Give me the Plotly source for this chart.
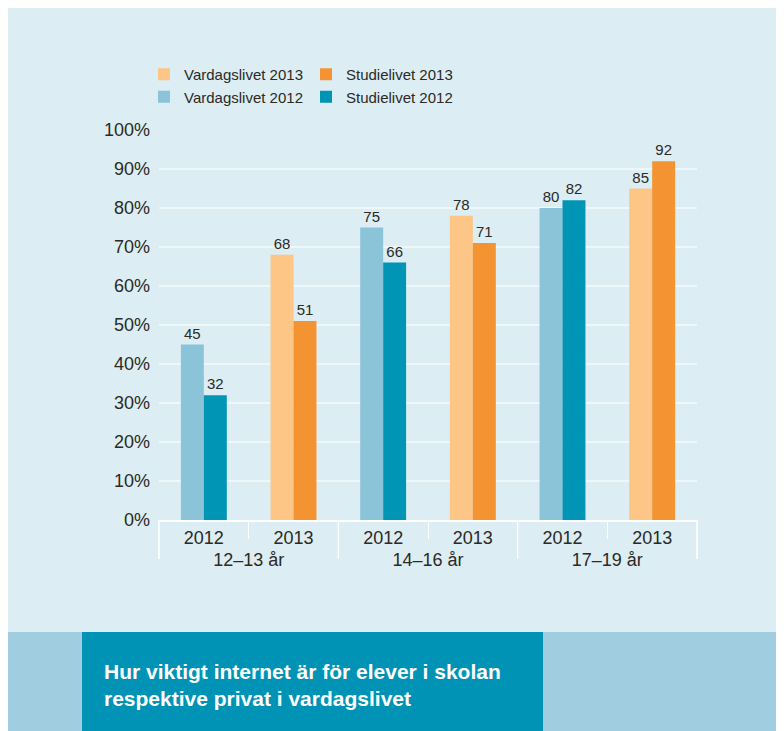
import plotly.graph_objects as go

# data
grupper = ["12–13 år", "12–13 år", "14–16 år", "14–16 år", "17–19 år", "17–19 år"]
ar = ["2012", "2013", "2012", "2013", "2012", "2013"]
vardagslivet_2012 = [45, None, 75, None, 80, None]
studielivet_2012 = [32, None, 66, None, 82, None]
vardagslivet_2013 = [None, 68, None, 78, None, 85]
studielivet_2013 = [None, 51, None, 71, None, 92]

BG = "#dcedf4"
TEXT = "#2b2a25"
FONT = "Liberation Sans, Arial, sans-serif"
BW = 0.256
OFF = 8  # the page body adds an 8px margin


def px_x(p):
    # page pixel -> paper (plot area 159..697 on the page)
    return (p - 159) / 538


def px_y(p):
    # page pixel -> paper (plot area 130..520 on the page)
    return (520 - p) / 390


def serie(namn, y, farg, offset, legend, rank):
    return go.Bar(
        x=[grupper, ar], y=y, name=namn,
        marker=dict(color=farg, line=dict(width=0)),
        width=BW, offset=offset,
        text=["" if v is None else str(v) for v in y],
        textposition="outside", cliponaxis=False,
        textfont=dict(size=15, color=TEXT, family=FONT),
        legend=legend, legendrank=rank,
    )


fig = go.Figure()
fig.add_trace(serie("Vardagslivet 2012", vardagslivet_2012, "#8bc3d9", -BW, "legend", 2))
fig.add_trace(serie("Studielivet 2012", studielivet_2012, "#0094b5", 0, "legend2", 2))
fig.add_trace(serie("Vardagslivet 2013", vardagslivet_2013, "#fdc686", -BW, "legend", 1))
fig.add_trace(serie("Studielivet 2013", studielivet_2013, "#f39331", 0, "legend2", 1))

leg = dict(orientation="v", xanchor="left", yanchor="top", y=px_y(58),
           bgcolor="rgba(0,0,0,0)", font=dict(size=15, color=TEXT, family=FONT),
           itemwidth=30, tracegroupgap=0)

fig.update_layout(
    width=784, height=731,
    margin=dict(l=159 - OFF, r=784 - 697 + OFF, t=130 - OFF, b=731 - 520 + OFF),
    paper_bgcolor=BG, plot_bgcolor=BG,
    barmode="overlay",
    font=dict(family=FONT, color=TEXT),
    legend=dict(leg, x=px_x(144)),
    legend2=dict(leg, x=px_x(306)),
    xaxis=dict(
        showgrid=False, showline=True, linecolor="white", linewidth=2,
        ticks="outside", tickson="boundaries", ticklen=17, tickcolor="white",
        dividercolor="rgba(0,0,0,0)", dividerwidth=0,
        tickfont=dict(size=18, color=TEXT),
    ),
    yaxis=dict(
        range=[0, 100], dtick=10, ticksuffix="%",
        showgrid=True, gridcolor="#eef7fa", gridwidth=2, zeroline=False,
        tickfont=dict(size=18, color=TEXT), ticklabelstandoff=8,
    ),
    showlegend=True,
)

# group dividers under the axis
for gx in [0, 1 / 3, 2 / 3, 1]:
    fig.add_shape(type="line", xref="paper", yref="paper",
                  x0=gx, x1=gx, y0=0, y1=px_y(559),
                  line=dict(color="white", width=1.5))

# bottom band and title box
fig.add_shape(type="rect", xref="paper", yref="paper", layer="below",
              x0=px_x(4), x1=px_x(820), y0=px_y(632), y1=px_y(760),
              fillcolor="#a0cde0", line=dict(width=0))
fig.add_shape(type="rect", xref="paper", yref="paper", layer="below",
              x0=px_x(82), x1=px_x(543), y0=px_y(632), y1=px_y(760),
              fillcolor="#0093b6", line=dict(width=0))

fig.add_annotation(
    text="<b>Hur viktigt internet är för elever i skolan<br>respektive privat i vardagslivet</b>",
    xref="paper", yref="paper", x=px_x(102), y=px_y(684.5),
    xanchor="left", yanchor="middle", align="left", showarrow=False,
    font=dict(size=21, color="white", family=FONT),
)

fig.write_html(
    "out.html",
    post_script="document.documentElement.style.overflow = 'hidden';"
                "document.body.style.overflow = 'hidden';",
)
